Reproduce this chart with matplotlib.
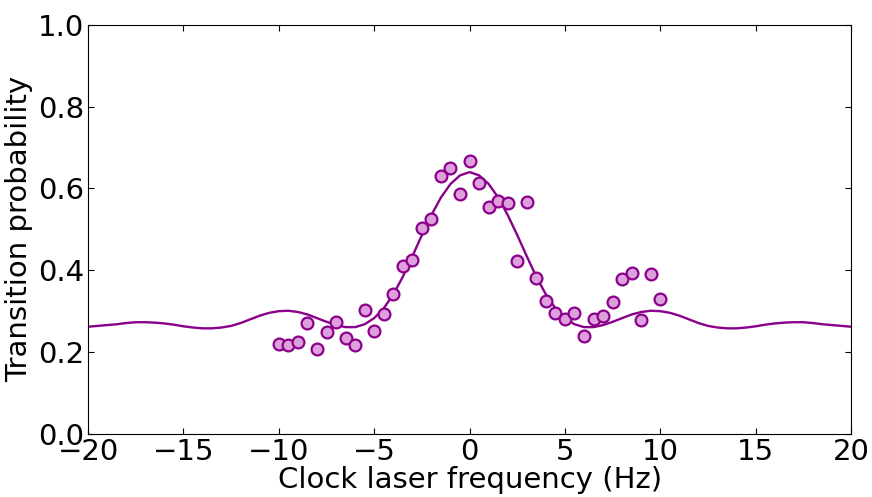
import numpy as np
import matplotlib
matplotlib.use('Agg')
import matplotlib.pyplot as plt

# measured transition probability vs detuning
freq = np.arange(-10, 10.5, 0.5)
prob = [0.220, 0.218, 0.225, 0.271, 0.208, 0.249, 0.274, 0.235, 0.218, 0.303,
        0.252, 0.293, 0.342, 0.411, 0.425, 0.504, 0.526, 0.631, 0.650, 0.587,
        0.667, 0.614, 0.555, 0.570, 0.565, 0.423, 0.567, 0.381, 0.325, 0.296,
        0.281, 0.296, 0.240, 0.281, 0.289, 0.323, 0.379, 0.394, 0.279, 0.391,
        0.330]

# fitted lineshape
fit_freq = np.arange(-20, 20.5, 0.5)
fit_prob = [0.262, 0.264, 0.266, 0.268, 0.271, 0.273, 0.273, 0.272, 0.270, 0.267,
            0.263, 0.260, 0.258, 0.258, 0.260, 0.264, 0.271, 0.280, 0.289, 0.296,
            0.300, 0.301, 0.298, 0.292, 0.283, 0.274, 0.266, 0.261, 0.261, 0.268,
            0.283, 0.307, 0.341, 0.384, 0.434, 0.486, 0.535, 0.578, 0.611, 0.632,
            0.640,
            0.632, 0.611, 0.578, 0.535, 0.486, 0.434, 0.384, 0.341, 0.307, 0.283,
            0.268, 0.261, 0.261, 0.266, 0.274, 0.283, 0.292, 0.298, 0.301, 0.300,
            0.296, 0.289, 0.280, 0.271, 0.264, 0.260, 0.258, 0.258, 0.260, 0.263,
            0.267, 0.270, 0.272, 0.273, 0.273, 0.271, 0.268, 0.266, 0.264, 0.262]

plt.rcParams['font.family'] = 'DejaVu Sans'
plt.rcParams['xtick.direction'] = 'in'
plt.rcParams['ytick.direction'] = 'in'

fig = plt.figure(figsize=(8.72, 4.97), dpi=100)
ax = fig.add_axes([0.101, 0.127, 0.875, 0.823])

ax.plot(fit_freq, fit_prob, color='#8b008b', lw=1.7, zorder=2)
ax.plot(freq, prob, 'o', ms=8.5, mfc='#dda0dd', mec='#8b008b', mew=1.6, zorder=3)

ax.set_xlim(-20, 20)
ax.set_ylim(0, 1)
ax.set_xticks([-20, -15, -10, -5, 0, 5, 10, 15, 20])
ax.set_yticks([0.0, 0.2, 0.4, 0.6, 0.8, 1.0])
ax.tick_params(labelsize=21, length=4, top=True, right=True, pad=3)
ax.set_xlabel('Clock laser frequency (Hz)', fontsize=21, labelpad=0)
ax.set_ylabel('Transition probability', fontsize=21, labelpad=3)

fig.savefig('out.png', dpi=100)
